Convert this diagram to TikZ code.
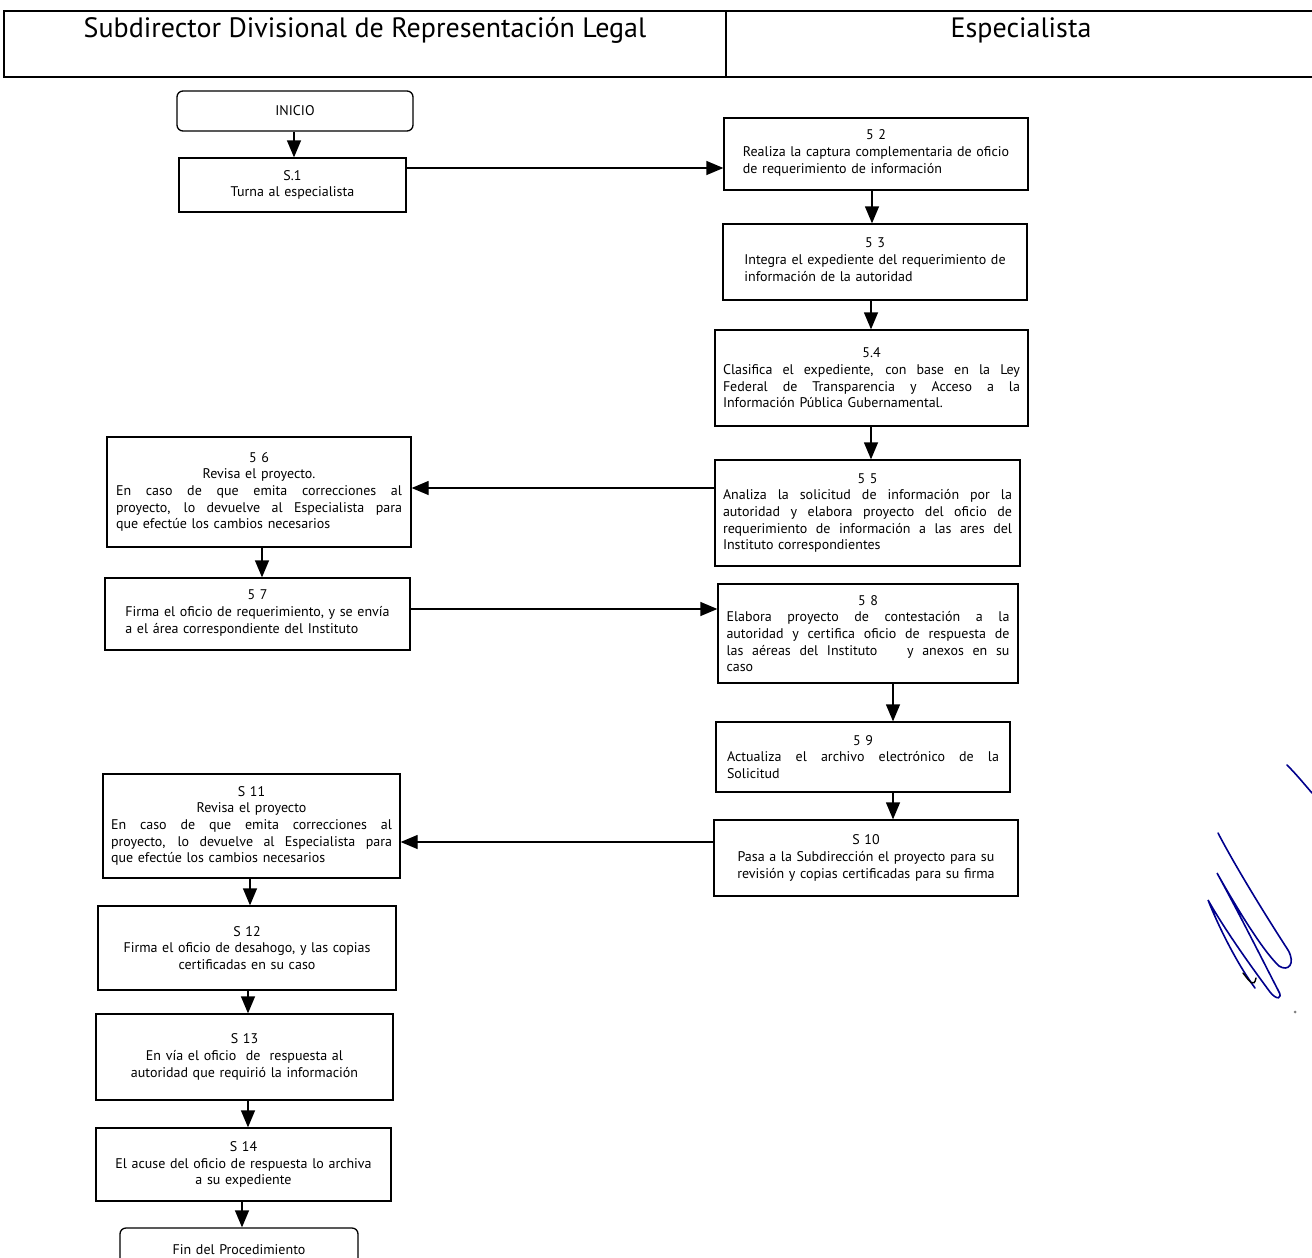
\documentclass[tikz,border=0pt]{standalone}
\usepackage{fontspec}
\setmainfont{PT Sans}
\usetikzlibrary{arrows.meta}
\newcommand\J[1]{\leavevmode\hbox to \hsize{\spaceskip=0.25em plus 1fil\relax #1}}
\newcommand\Lf[1]{\leavevmode\hbox to \hsize{#1\hfil}}
\newcommand\bodyfont{\fontsize{14}{16.7}\selectfont}
\tikzset{
  box/.style={draw, line width=1.3pt, align=center, inner sep=0pt, font=\bodyfont},
  term/.style={box, rounded corners=6pt},
  arr/.style={line width=1.3pt, -{Triangle[length=17pt,width=14pt]}},
  frame/.style={line width=1.2pt},
  sig/.style={line width=1.6pt, color=blue!55!black, line cap=round},
}
\begin{document}
\begin{tikzpicture}[x=1pt,y=-1pt]
\useasboundingbox (0,0) rectangle (1312,1258);
\clip (0,0) rectangle (1312,1258);
% header
\draw[frame] (1312,11) -- (4,11) -- (4,77) -- (1312,77);
\draw[frame] (726,11) -- (726,77);
\node[font=\fontsize{28}{32}\selectfont] (h1) at (365,30) {Subdirector Divisional de Representación Legal};
\node[font=\fontsize{28}{32}\selectfont] (h2) at (1021,30) {Especialista};

% nodes
\node[term, minimum width=236pt, minimum height=40pt, text width=218pt] (ini) at (295,111) {INICIO};
\node[box, minimum width=227pt, minimum height=54pt, text width=209pt] (s1) at (292.5,185) {S.1\\Turna al especialista};
\node[box, minimum width=304pt, minimum height=72pt, text width=286pt] (s2) at (876,154) {5 2\\\begin{tabular}[t]{@{}l@{}}Realiza la captura complementaria de oficio\\de requerimiento de información\end{tabular}};
\node[box, minimum width=304pt, minimum height=76pt, text width=286pt] (s3) at (875,262) {5 3\\\begin{tabular}[t]{@{}l@{}}Integra el expediente del requerimiento de\\información de la autoridad\end{tabular}};
\node[box, minimum width=313pt, minimum height=96pt, text width=297pt] (s4) at (871.5,378) {5.4\\\J{Clasifica el expediente, con base en la Ley}\\\J{Federal de Transparencia y Acceso a la}\\\Lf{Información Pública Gubernamental.}};
\node[box, minimum width=305pt, minimum height=106pt, text width=289pt] (s5) at (867.5,513) {5 5\\\J{Analiza la solicitud de información por la}\\\J{autoridad y elabora proyecto del oficio de}\\\J{requerimiento de información a las ares del}\\\Lf{Instituto correspondientes}};
\node[box, minimum width=304pt, minimum height=110pt, text width=286pt] (s6) at (259,492) {5 6\\Revisa el proyecto.\\\J{En caso de que emita correcciones al}\\\J{proyecto, lo devuelve al Especialista para}\\\Lf{que efectúe los cambios necesarios}};
\node[box, minimum width=305pt, minimum height=72pt, text width=287pt] (s7) at (257.5,614) {5 7\\\begin{tabular}[t]{@{}l@{}}Firma el oficio de requerimiento, y se envía\\a el área correspondiente del Instituto\end{tabular}};
\node[box, minimum width=300pt, minimum height=99pt, text width=283pt] (s8) at (868,633.5) {5 8\\\J{Elabora proyecto de contestación a la}\\\J{autoridad y certifica oficio de respuesta de}\\\J{las aéreas del Instituto \hskip 1.5em y anexos en su}\\\Lf{caso}};
\node[box, minimum width=294pt, minimum height=70pt, text width=272pt] (s9) at (863,757) {5 9\\\J{Actualiza el archivo electrónico de la}\\\Lf{Solicitud}};
\node[box, minimum width=304pt, minimum height=76pt, text width=286pt] (s10) at (866,858) {S 10\\Pasa a la Subdirección el proyecto para su\\revisión y copias certificadas para su firma};
\node[box, minimum width=297pt, minimum height=104pt, text width=281pt] (s11) at (251.5,826) {S 11\\Revisa el proyecto\\\J{En caso de que emita correcciones al}\\\J{proyecto, lo devuelve al Especialista para}\\\Lf{que efectúe los cambios necesarios}};
\node[box, minimum width=298pt, minimum height=84pt, text width=280pt] (s12) at (247,948) {S 12\\Firma el oficio de desahogo, y las copias\\certificadas en su caso};
\node[box, minimum width=297pt, minimum height=86pt, text width=279pt] (s13) at (244.5,1057) {S 13\\En vía el oficio \ de \ respuesta al\\autoridad que requirió la información};
\node[box, minimum width=295pt, minimum height=73pt, text width=277pt] (s14) at (243.5,1164.5) {S 14\\El acuse del oficio de respuesta lo archiva\\a su expediente};
\node[term, minimum width=238pt, minimum height=44pt, text width=220pt] (fin) at (239,1250) {Fin del Procedimiento};

% helper coordinates
\coordinate (y1) at (0,168);
\coordinate (y5) at (0,488);
\coordinate (y7) at (0,609);
\coordinate (y10) at (0,842);
\coordinate (xa) at (294,0);
\coordinate (xb) at (872,0);
\coordinate (xc) at (871,0);
\coordinate (xd) at (262,0);
\coordinate (xe) at (893,0);
\coordinate (xf) at (250,0);
\coordinate (xg) at (248,0);
\coordinate (xh) at (242,0);

% connectors
\draw[arr] (ini.south -| xa) -- (s1.north -| xa);
\draw[arr] (s1.east |- y1) -- (s2.west |- y1);
\draw[arr] (s2.south -| xb) -- (s3.north -| xb);
\draw[arr] (s3.south -| xc) -- (s4.north -| xc);
\draw[arr] (s4.south -| xc) -- (s5.north -| xc);
\draw[arr] (s5.west |- y5) -- (s6.east |- y5);
\draw[arr] (s6.south -| xd) -- (s7.north -| xd);
\draw[arr] (s7.east |- y7) -- (s8.west |- y7);
\draw[arr] (s8.south -| xe) -- (s9.north -| xe);
\draw[arr] (s9.south -| xe) -- (s10.north -| xe);
\draw[arr] (s10.west |- y10) -- (s11.east |- y10);
\draw[arr] (s11.south -| xf) -- (s12.north -| xf);
\draw[arr] (s12.south -| xg) -- (s13.north -| xg);
\draw[arr] (s13.south -| xg) -- (s14.north -| xg);
\draw[arr] (s14.south -| xh) -- (fin.north -| xh);

% signature
\draw[sig] (1287,765) .. controls (1297,775) and (1305,785) .. (1312,793);
\draw[sig] (1218,833) .. controls (1240,875) and (1275,930) .. (1288,950)
  .. controls (1296,964) and (1288,972) .. (1279,966)
  .. controls (1262,950) and (1235,905) .. (1217,873)
  .. controls (1240,915) and (1265,965) .. (1278,990)
  .. controls (1284,1000) and (1276,1000) .. (1270,992)
  .. controls (1250,965) and (1225,930) .. (1208,900)
  .. controls (1220,930) and (1238,965) .. (1255,988);
\draw[line width=1.4pt, line cap=round] (1243,973) .. controls (1250,982) and (1254,988) .. (1256,978);
\fill[gray] (1295,1012) circle (1.5pt);
\end{tikzpicture}
\end{document}
